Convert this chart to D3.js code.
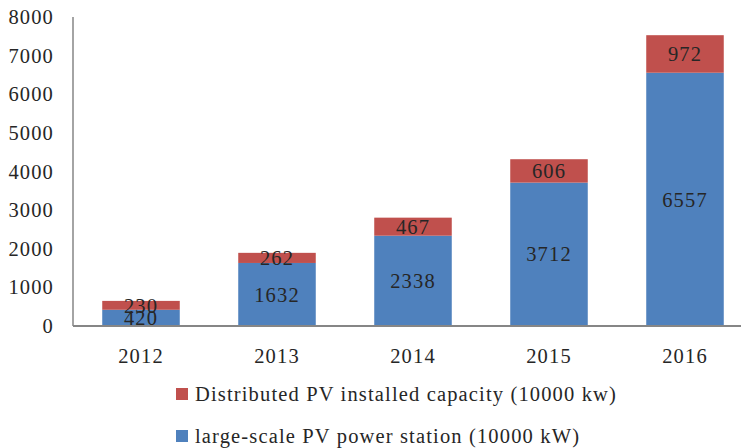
<!DOCTYPE html>
<html>
<head>
<meta charset="utf-8">
<script src="https://cdn.jsdelivr.net/npm/d3@7"></script>
<style>
  html, body { margin: 0; padding: 0; background: #fff; }
  svg { display: block; font-family: "Liberation Serif", "Times New Roman", serif; }
  svg text { letter-spacing: 1.15px; }
</style>
</head>
<body>
<svg id="chart" width="741" height="448"></svg>
<script>
// Installed PV capacity by year (units of 10000 kW)
const years = ["2012", "2013", "2014", "2015", "2016"];
const largeScale = [420, 1632, 2338, 3712, 6557];
const distributed = [230, 262, 467, 606, 972];
const yTicks = [0, 1000, 2000, 3000, 4000, 5000, 6000, 7000, 8000];
const seriesNames = [
  "Distributed PV installed capacity (10000 kw)",
  "large-scale PV power station (10000 kW)"
];

const colors = { large: "#4F81BD", dist: "#C0504D" };
const textColor = "#262626";
const fontSize = 20.5;
const fontFamily = "Liberation Serif, serif";

const svg = d3.select("#chart");
const margin = { left: 73, top: 17, bottom: 326 };
const bandStep = 136;

const x = d3.scaleBand()
  .domain(years)
  .range([margin.left, margin.left + bandStep * years.length])
  .paddingInner(0.43)
  .paddingOuter(0.215);

const y = d3.scaleLinear().domain([0, 8000]).range([margin.bottom, margin.top]);

// Value axis (labels only, no ticks)
const yAxis = d3.axisLeft(y).tickValues(yTicks).tickSize(0).tickPadding(19).tickFormat(d3.format("d"));
const gy = svg.append("g").attr("transform", `translate(${margin.left},0)`).call(yAxis);
gy.select(".domain").remove();
gy.selectAll("text").attr("font-size", fontSize).attr("fill", textColor)
  .attr("font-family", fontFamily);

// Stacked bars
const rows = years.map((yr, i) => ({ yr, large: largeScale[i], dist: distributed[i] }));
const stack = d3.stack().keys(["large", "dist"])(rows);

svg.append("g").selectAll("g")
  .data(stack).join("g")
  .attr("fill", d => colors[d.key])
  .selectAll("rect")
  .data(d => d).join("rect")
  .attr("x", d => x(d.data.yr))
  .attr("width", x.bandwidth())
  .attr("y", d => y(d[1]))
  .attr("height", d => y(d[0]) - y(d[1]));

// Segment value labels
svg.append("g").selectAll("g")
  .data(stack).join("g")
  .selectAll("text")
  .data(d => d.map(s => ({ s, v: d.key === "large" ? s.data.large : s.data.dist })))
  .join("text")
  .attr("x", d => x(d.s.data.yr) + x.bandwidth() / 2)
  .attr("y", d => (y(d.s[0]) + y(d.s[1])) / 2)
  .attr("dy", "0.35em")
  .attr("text-anchor", "middle")
  .attr("font-size", fontSize)
  .attr("fill", textColor)
  .text(d => d.v);

// Axis lines
svg.append("line")
  .attr("x1", margin.left).attr("x2", 741)
  .attr("y1", y(0)).attr("y2", y(0))
  .attr("stroke", "#868686").attr("stroke-width", 2);
svg.append("line")
  .attr("x1", margin.left).attr("x2", margin.left)
  .attr("y1", y(8000)).attr("y2", y(0))
  .attr("stroke", "#868686").attr("stroke-width", 1.5);

// Category labels
const xAxis = d3.axisBottom(x).tickSize(0).tickPadding(22);
const gx = svg.append("g").attr("transform", `translate(0,${y(0)})`).call(xAxis);
gx.select(".domain").remove();
gx.selectAll("text").attr("font-size", fontSize).attr("fill", textColor)
  .attr("font-family", fontFamily);

// Legend
const legend = svg.append("g").attr("transform", "translate(176,0)");
const legendItems = [
  { name: seriesNames[0], color: colors.dist, y: 394 },
  { name: seriesNames[1], color: colors.large, y: 436 }
];
const li = legend.selectAll("g").data(legendItems).join("g")
  .attr("transform", d => `translate(0,${d.y})`);
li.append("rect").attr("x", 0).attr("y", -6).attr("width", 12).attr("height", 12)
  .attr("fill", d => d.color);
li.append("text").attr("x", 19).attr("dy", "0.35em")
  .attr("font-size", fontSize).attr("fill", textColor)
  .text(d => d.name);
</script>
</body>
</html>
